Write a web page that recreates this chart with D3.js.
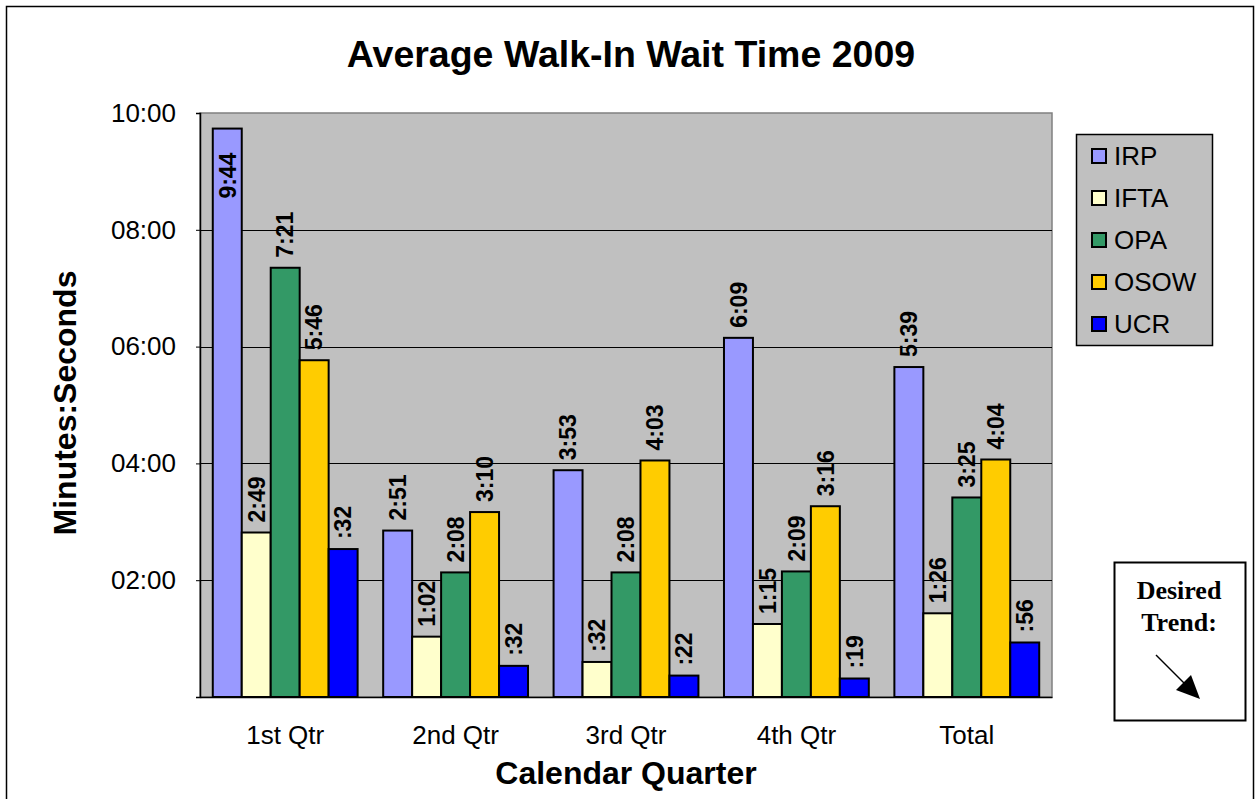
<!DOCTYPE html>
<html><head><meta charset="utf-8">
<script src="https://cdn.jsdelivr.net/npm/d3@7"></script>
<style>
body{margin:0;background:#fff;}
</style></head>
<body><svg id="c" width="1255" height="799" font-family="Arial, 'Liberation Sans', sans-serif"></svg>
<script>
const categories = ["1st Qtr","2nd Qtr","3rd Qtr","4th Qtr","Total"];
const seriesNames = ["IRP","IFTA","OPA","OSOW","UCR"];
const seriesColors = ["#9999FF","#FFFFCC","#339966","#FFCC00","#0000FF"];
// values in seconds, per series across categories
const IRP  = [584, 171, 233, 369, 339];
const IFTA = [169,  62,  36,  75,  86];
const OPA  = [441, 128, 128, 129, 205];
const OSOW = [346, 190, 243, 196, 244];
const UCR  = [152,  32,  22,  19,  56];
// data labels as shown on the chart
const IRPLabels  = ["9:44","2:51","3:53","6:09","5:39"];
const IFTALabels = ["2:49","1:02",":32","1:15","1:26"];
const OPALabels  = ["7:21","2:08","2:08","2:09","3:25"];
const OSOWLabels = ["5:46","3:10","4:03","3:16","4:04"];
const UCRLabels  = [":32",":32",":22",":19",":56"];
const yTicks = [0,120,240,360,480,600];
const yTickLabels = ["","02:00","04:00","06:00","08:00","10:00"];

const seriesValues = [IRP,IFTA,OPA,OSOW,UCR];
const seriesLabels = [IRPLabels,IFTALabels,OPALabels,OSOWLabels,UCRLabels];

const svg = d3.select("#c");
const L=200, T=113, R=1052, B=697;
const SANS = "Arial, 'Liberation Sans', sans-serif";
const SERIF = "'Liberation Serif', 'Times New Roman', serif";

// outer border
svg.append("rect").attr("x",6.5).attr("y",6.5).attr("width",1247).attr("height",800)
  .attr("fill","#fff").attr("stroke","#000").attr("stroke-width",1.5);

// title
svg.append("text").attr("x",631).attr("y",67).attr("text-anchor","middle")
  .attr("font-size",37.5).attr("font-weight","bold").text("Average Walk-In Wait Time 2009");

const y = d3.scaleLinear().domain([0,600]).range([B,T]);
const x0 = d3.scaleBand().domain(categories).range([L,R]).padding(0);
const step = x0.bandwidth();
const x1 = d3.scaleBand().domain(seriesNames).range([step*0.075, step*0.925]).padding(0);

// plot area
svg.append("rect").attr("x",L).attr("y",T).attr("width",R-L).attr("height",B-T)
  .attr("fill","#C0C0C0").attr("stroke","#808080").attr("stroke-width",1.5);

// gridlines
svg.append("g").selectAll("line").data(yTicks.slice(1,5)).join("line")
  .attr("x1",L).attr("x2",R).attr("y1",d=>Math.round(y(d))+0.5).attr("y2",d=>Math.round(y(d))+0.5)
  .attr("stroke","#000").attr("stroke-width",1);

// y axis
const yAxis = d3.axisLeft(y).tickValues(yTicks).tickSize(4).tickPadding(20)
  .tickFormat((d,i)=>yTickLabels[i]);
const ya = svg.append("g").attr("transform",`translate(${L},0)`).call(yAxis);
ya.select(".domain").attr("stroke","#000").attr("stroke-width",1.5);
ya.selectAll(".tick line").attr("stroke","#000");
ya.selectAll(".tick text").attr("font-size",26).attr("font-family",SANS).attr("fill","#000");

// x axis
const xAxis = d3.axisBottom(x0).tickSize(0).tickPadding(29);
const xa = svg.append("g").attr("transform",`translate(0,${B})`).call(xAxis);
xa.select(".domain").attr("stroke","#000").attr("stroke-width",1.5);
xa.selectAll(".tick text").attr("font-size",26).attr("font-family",SANS).attr("fill","#000");

// bars
const data = [];
seriesNames.forEach((s,si)=>{
  categories.forEach((c,ci)=>{
    data.push({s, si, c, v: seriesValues[si][ci], lab: seriesLabels[si][ci]});
  });
});
svg.append("g").selectAll("rect").data(data).join("rect")
  .attr("x",d=>x0(d.c)+x1(d.s))
  .attr("y",d=>y(d.v))
  .attr("width",x1.bandwidth())
  .attr("height",d=>B-y(d.v))
  .attr("fill",d=>seriesColors[d.si])
  .attr("stroke","#000").attr("stroke-width",2);

// data labels
const lg = svg.append("g");
data.forEach(d=>{
  const cx = x0(d.c)+x1(d.s)+x1.bandwidth()/2;
  const top = y(d.v);
  const t = lg.append("text").attr("font-size",23).attr("font-weight","bold")
    .attr("dy","0.36em").text(d.lab);
  const len = t.node().getComputedTextLength();
  if (top - 10 - len < T) {
    t.attr("text-anchor","end").attr("transform",`translate(${cx},${top+24}) rotate(-90)`);
  } else {
    t.attr("text-anchor","start").attr("transform",`translate(${cx},${top-10}) rotate(-90)`);
  }
});

// axis titles
svg.append("text").attr("x",626).attr("y",784).attr("text-anchor","middle")
  .attr("font-size",32).attr("font-weight","bold").text("Calendar Quarter");
svg.append("text").attr("transform","translate(76,403) rotate(-90)").attr("text-anchor","middle")
  .attr("font-size",32).attr("font-weight","bold").text("Minutes:Seconds");

// legend
const leg = svg.append("g");
leg.append("rect").attr("x",1076.5).attr("y",134.5).attr("width",136).attr("height",211)
  .attr("fill","#C0C0C0").attr("stroke","#000").attr("stroke-width",1.5);
seriesNames.forEach((s,i)=>{
  const cy = 156 + i*42;
  leg.append("rect").attr("x",1092).attr("y",cy-7).attr("width",14).attr("height",14)
    .attr("fill",seriesColors[i]).attr("stroke","#000").attr("stroke-width",2);
  leg.append("text").attr("x",1114).attr("y",cy).attr("dy","0.36em")
    .attr("font-size",26).text(s);
});

// desired trend box
const dt = svg.append("g");
dt.append("rect").attr("x",1114.5).attr("y",562.5).attr("width",131).attr("height",158)
  .attr("fill","#fff").attr("stroke","#000").attr("stroke-width",2);
dt.append("text").attr("x",1179).attr("y",599).attr("text-anchor","middle")
  .style("font-family",SERIF).attr("font-weight","bold")
  .attr("font-size",26).text("Desired");
dt.append("text").attr("x",1179).attr("y",631).attr("text-anchor","middle")
  .style("font-family",SERIF).attr("font-weight","bold")
  .attr("font-size",26).text("Trend:");
dt.append("line").attr("x1",1156).attr("y1",655).attr("x2",1186).attr("y2",685)
  .attr("stroke","#000").attr("stroke-width",1.5);
dt.append("path").attr("d","M1200,699 L1176,690 L1191,675 Z").attr("fill","#000");
</script></body></html>
